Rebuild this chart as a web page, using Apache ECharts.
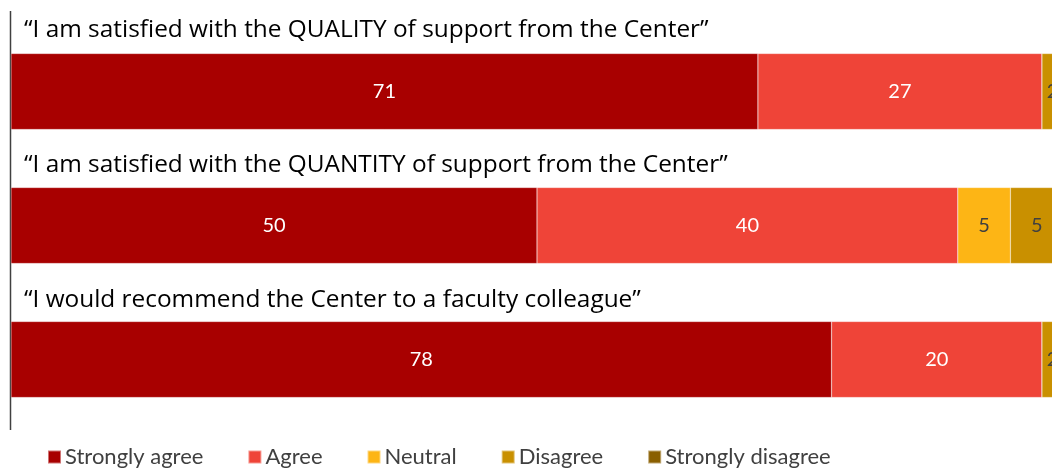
<!DOCTYPE html>
<html>
<head>
<meta charset="utf-8">
<style>
  html, body { margin: 0; padding: 0; background: #ffffff; }
  #chart { width: 1052px; height: 470px; }
</style>
<script src="https://cdn.jsdelivr.net/npm/echarts@6/dist/echarts.min.js"></script>
</head>
<body>
<div id="chart"></div>
<script>
// Survey statements, top to bottom
const statements = [
  '\u201CI am satisfied with the QUALITY of support from the Center\u201D',
  '\u201CI am satisfied with the QUANTITY of support from the Center\u201D',
  '\u201CI would recommend the Center to a faculty colleague\u201D'
];
const categories = ['Quality', 'Quantity', 'Recommend'];

// Percent of respondents per response level
const stronglyAgree    = [71, 50, 78];
const agree            = [27, 40, 20];
const neutral          = [0, 5, 0];
const disagree         = [2, 5, 2];
const stronglyDisagree = [0, 0, 0];

const seriesNames  = ['Strongly agree', 'Agree', 'Neutral', 'Disagree', 'Strongly disagree'];
const seriesData   = [stronglyAgree, agree, neutral, disagree, stronglyDisagree];
const seriesColors = ['#A80000', '#EF4438', '#FDB515', '#C99000', '#8A5F00'];
const labelColors  = ['#ffffff', '#ffffff', '#404040', '#404040', '#ffffff'];

const FONT = 'Lato, "Open Sans", sans-serif';
const TITLE_FONT = '"Open Sans", Lato, sans-serif';

const chart = echarts.init(document.getElementById('chart'), null, { renderer: 'canvas' });

const series = seriesNames.map((name, i) => ({
  name: name,
  type: 'bar',
  stack: 'total',
  barWidth: 76,
  data: seriesData[i],
  itemStyle: { color: seriesColors[i], borderColor: 'rgba(255,255,255,0.45)', borderWidth: 0.5 },
  label: {
    show: true,
    position: 'inside',
    color: labelColors[i],
    fontFamily: FONT,
    fontSize: 20,
    formatter: p => (p.value ? String(p.value) : '')
  },
  emphasis: { disabled: true }
}));

const titleTops = [18, 153, 288];

chart.setOption({
  animation: false,
  backgroundColor: '#ffffff',
  title: statements.map((t, i) => ({
    text: t,
    left: 24,
    top: titleTops[i],
    padding: 0,
    textStyle: { fontFamily: TITLE_FONT, fontSize: 24.4, fontWeight: 'normal', color: '#000000' }
  })),
  // the 0–100 scale runs a little past the right edge of the canvas
  grid: { left: 11, top: 24.5, width: 1052, height: 402, outerBoundsMode: 'none' },
  xAxis: {
    type: 'value',
    min: 0,
    max: 100,
    show: false
  },
  yAxis: {
    type: 'category',
    inverse: true,
    data: categories,
    axisLine: { show: false },
    axisTick: { show: false },
    axisLabel: { show: false },
    splitLine: { show: false }
  },
  legend: {
    data: seriesNames,
    left: 47,
    top: 446,
    padding: 0,
    itemWidth: 13,
    itemHeight: 13,
    itemGap: 44,
    icon: 'rect',
    textStyle: { fontFamily: FONT, fontSize: 22, color: '#404040', padding: [0, 0, 0, -1] }
  },
  graphic: [{
    type: 'line',
    shape: { x1: 10.5, y1: 11, x2: 10.5, y2: 430 },
    style: { stroke: '#404040', lineWidth: 1.5 },
    silent: true
  }],
  series: series
});
</script>
</body>
</html>
